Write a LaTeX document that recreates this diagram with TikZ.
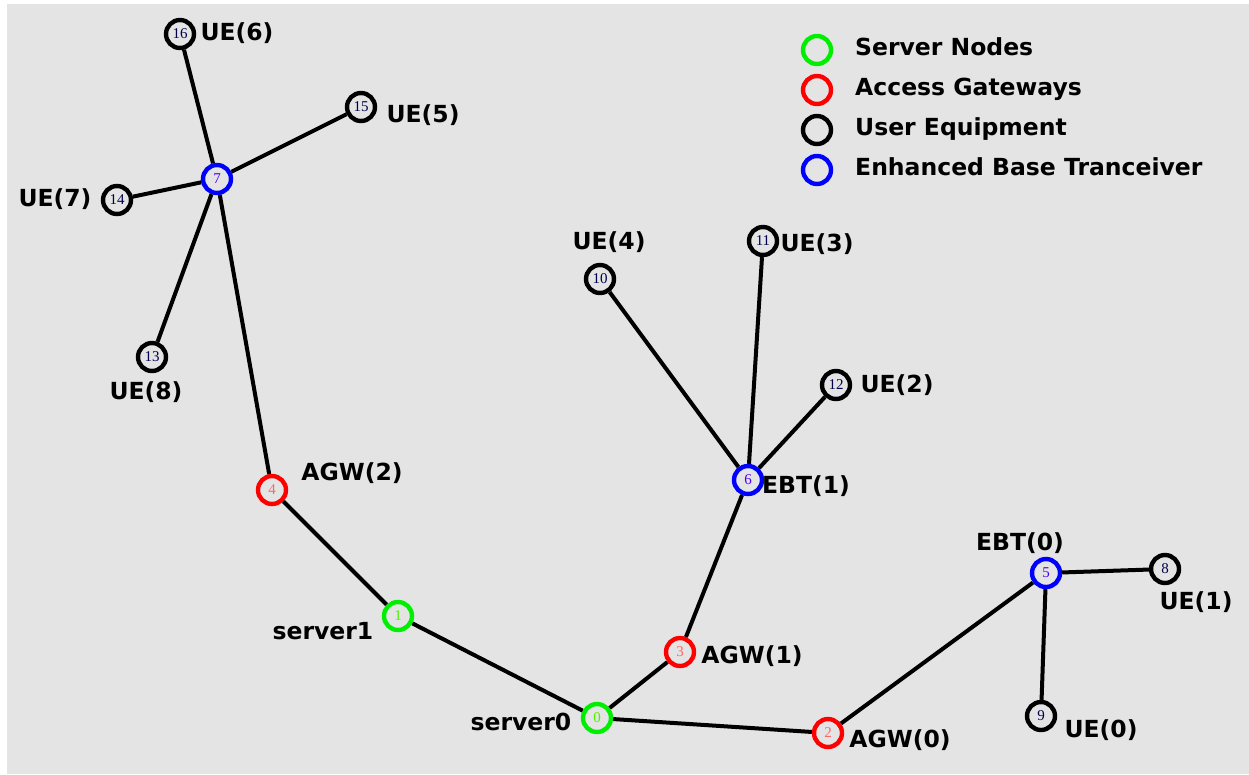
\documentclass[tikz,border=0pt]{standalone}
\usepackage{fontspec}
\setmainfont{Liberation Serif}
\newfontfamily\lblfont{DejaVu Sans}[BoldFont={DejaVu Sans Bold}]
\definecolor{bg}{HTML}{E4E4E4}
\definecolor{gnode}{HTML}{00EE00}
\definecolor{rnode}{HTML}{FF0000}
\definecolor{bnode}{HTML}{0000FF}
\definecolor{knode}{HTML}{000000}
\begin{document}
\begin{tikzpicture}[x=1pt,y=-1pt,
  nd/.style={circle,draw,line width=4.4pt,minimum size=28pt,inner sep=0pt,font=\fontsize{15}{15}\selectfont},
  srv/.style={nd,draw=gnode,text=gnode!70!yellow},
  agw/.style={nd,draw=rnode,text=rnode!60!white},
  ebt/.style={nd,draw=bnode,text=bnode!70!magenta},
  ue/.style={nd,draw=knode,text=black!70!blue},
  lbl/.style={font=\lblfont\bfseries\fontsize{23.5}{23.5}\selectfont,inner sep=0pt,text height=17pt,text depth=4pt},
  leg/.style={lbl,anchor=west},
  edge/.style={line width=4pt,black}]
\useasboundingbox (0,0) rectangle (1249,774);
\fill[white] (0,0) rectangle (1249,774);
\fill[bg] (7,4) rectangle (1249,774);
% nodes
\node[srv] (n0) at (597,718) {0};
\node[srv] (n1) at (398,616) {1};
\node[agw] (n2) at (828,733) {2};
\node[agw] (n3) at (680,652) {3};
\node[agw] (n4) at (272,490) {4};
\node[ebt] (n5) at (1046,573) {5};
\node[ebt] (n6) at (748,480) {6};
\node[ebt] (n7) at (217,179) {7};
\node[ue] (n8) at (1165,569) {8};
\node[ue] (n9) at (1041,716) {9};
\node[ue] (n10) at (600,279) {10};
\node[ue] (n11) at (763,241) {11};
\node[ue] (n12) at (836,385) {12};
\node[ue] (n13) at (152,357) {13};
\node[ue] (n14) at (117,200) {14};
\node[ue] (n15) at (361,107) {15};
\node[ue] (n16) at (180,34) {16};
% edges
\draw[edge] (n16) -- (n7);
\draw[edge] (n15) -- (n7);
\draw[edge] (n14) -- (n7);
\draw[edge] (n13) -- (n7);
\draw[edge] (n7) -- (n4);
\draw[edge] (n4) -- (n1);
\draw[edge] (n1) -- (n0);
\draw[edge] (n0) -- (n3);
\draw[edge] (n3) -- (n6);
\draw[edge] (n6) -- (n10);
\draw[edge] (n6) -- (n11);
\draw[edge] (n6) -- (n12);
\draw[edge] (n0) -- (n2);
\draw[edge] (n2) -- (n5);
\draw[edge] (n5) -- (n8);
\draw[edge] (n5) -- (n9);
% labels
\node[lbl] (l0) at (521,724) {server0};
\node[lbl] (l1) at (323,633) {server1};
\node[lbl] (l2) at (900,741) {AGW(0)};
\node[lbl] (l3) at (752,657) {AGW(1)};
\node[lbl] (l4) at (352,474) {AGW(2)};
\node[lbl] (l5) at (1020,544) {EBT(0)};
\node[lbl] (l6) at (806,487) {EBT(1)};
\node[lbl] (l8) at (1196,603) {UE(1)};
\node[lbl] (l9) at (1101,731) {UE(0)};
\node[lbl] (l10) at (609,243) {UE(4)};
\node[lbl] (l11) at (817,245) {UE(3)};
\node[lbl] (l12) at (897,386) {UE(2)};
\node[lbl] (l13) at (146,393) {UE(8)};
\node[lbl] (l14) at (55,200) {UE(7)};
\node[lbl] (l15) at (423,116) {UE(5)};
\node[lbl] (l16) at (237,34) {UE(6)};
% legend
\node[nd,draw=gnode] (g1) at (817,50) {};
\node[nd,draw=rnode] (g2) at (817,90) {};
\node[nd,draw=knode] (g3) at (817,130) {};
\node[nd,draw=bnode] (g4) at (817,170) {};
\node[leg] (t1) at (855,49) {Server Nodes};
\node[leg] (t2) at (855,89) {Access Gateways};
\node[leg] (t3) at (855,129) {User Equipment};
\node[leg] (t4) at (855,169) {Enhanced Base Tranceiver};
\end{tikzpicture}
\end{document}
